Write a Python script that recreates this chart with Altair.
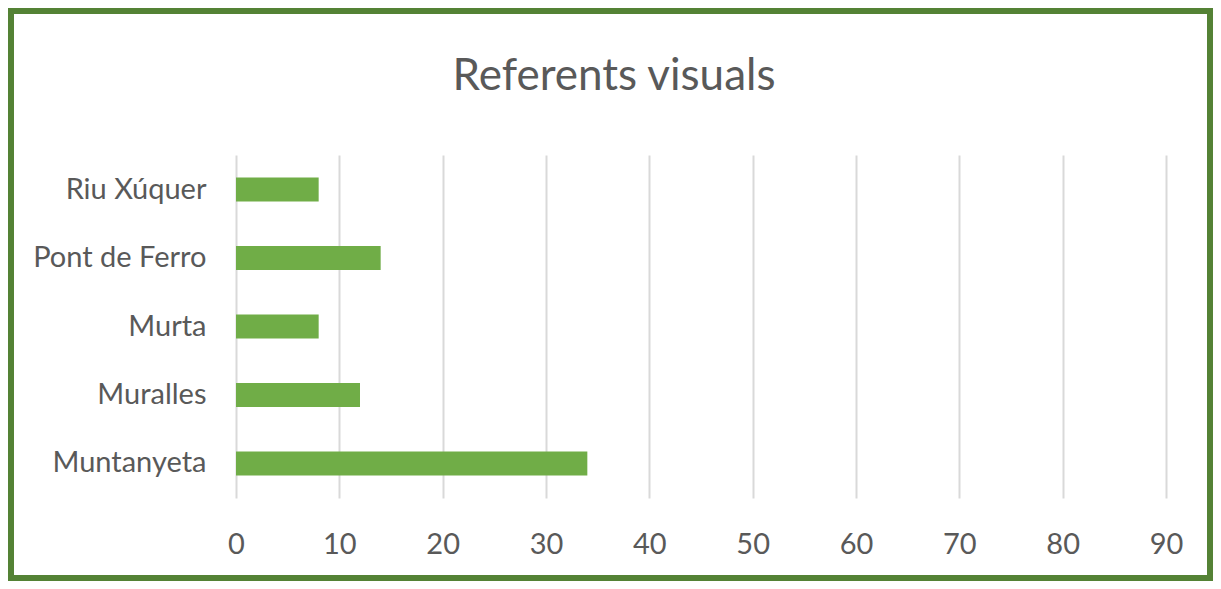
import altair as alt
import pandas as pd

categories = ["Riu Xúquer", "Pont de Ferro", "Murta", "Muralles", "Muntanyeta"]
values = [8, 14, 8, 12, 34]
tick_values = [0, 10, 20, 30, 40, 50, 60, 70, 80, 90]
title_text = "Referents visuals"

df = pd.DataFrame({"cat": categories, "val": values})

FONT = "Lato"
GRAY = "#595959"

bars = alt.Chart(df).mark_bar(color="#70AD47").encode(
    y=alt.Y(
        "cat:N",
        sort=categories,
        title=None,
        scale=alt.Scale(paddingInner=0.65, paddingOuter=0.33),
        axis=alt.Axis(
            labelFont=FONT, labelFontSize=29, labelColor=GRAY, labelPadding=30,
            domain=False, ticks=False, grid=False,
        ),
    ),
    x=alt.X(
        "val:Q",
        title=None,
        scale=alt.Scale(domain=[0, 90], nice=False),
        axis=alt.Axis(
            values=tick_values, grid=True, gridColor="#d9d9d9", gridWidth=2,
            domain=False, ticks=False, labelFont=FONT, labelFontSize=29,
            labelColor=GRAY, labelPadding=32, labelFlush=False, labelBound=False,
        ),
    ),
)

border = alt.Chart(alt.Data(values=[{}])).mark_rect(
    filled=False, stroke="#548235", strokeWidth=6
).encode(
    x=alt.value(-225), x2=alt.value(974), y=alt.value(-144), y2=alt.value(423)
)

title = alt.Chart(alt.Data(values=[{"t": title_text}])).mark_text(
    font=FONT, fontSize=44, color=GRAY, align="center", baseline="alphabetic"
).encode(
    text="t:N", x=alt.value(378), y=alt.value(-65)
)

chart = alt.layer(bars, border, title).properties(
    width=930,
    height=343,
    padding={"left": 228, "top": 147, "right": 47, "bottom": 83},
    autosize=alt.AutoSizeParams(type="none"),
    background="white",
).configure_view(stroke=None)

chart.save("out.html", embed_options={"renderer": "svg", "actions": False})
